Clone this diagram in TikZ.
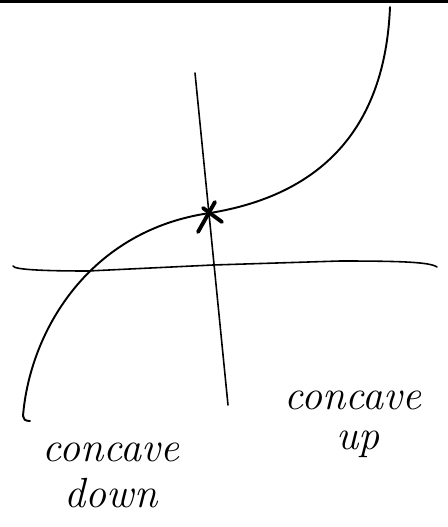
\documentclass[tikz,border=0pt]{standalone}
\usetikzlibrary{positioning}

\tikzset{
  sketch/.style={line width=1.1pt,line cap=round,line join=round},
  axis/.style={line width=0.9pt,line cap=round},
  hand/.style={font=\fontsize{24}{28}\selectfont\itshape,inner sep=0pt}
}

\begin{document}
\begin{tikzpicture}[x=0.02cm,y=-0.02cm]
    \useasboundingbox (0,0) rectangle (448,527);
    % frame line along the top
    \draw[line width=1.8pt] (0,1.5) -- (448,1.5);
    % axes
    \coordinate (xl) at (13,266);
    \coordinate (xr) at (437,267);
    \coordinate (yt) at (195,73);
    \coordinate (yb) at (228,405);
    \draw[axis] (xl) .. controls (14,270) and (50,271) .. (88,271)
      -- (213,265) -- (340,261) .. controls (400,261) and (430,262) .. (xr);
    \draw[axis] (yt) -- (yb);
    % the curve
    \coordinate (ip) at (210,213);
    \draw[sketch] (30,421) .. controls (25,421) and (23,419) .. (23,416)
      .. controls (30,330) and (90,230) .. (ip)
      .. controls (320,195) and (385,130) .. (390,7);
    % inflection mark
    \draw[line width=2.2pt,line cap=round] (198,232) -- (215,202);
    \draw[line width=2.2pt,line cap=round] (203,208) -- (222,222);
    % labels
    \node[hand] (cdown) at (111,452) {concave};
    \node[hand,below=0.32cm of cdown] (down) {down};
    \node[hand] (cup) at (353,400) {concave};
    \node[hand,below=0.42cm of cup,xshift=3pt] (up) {up};
  \end{tikzpicture}
\end{document}
